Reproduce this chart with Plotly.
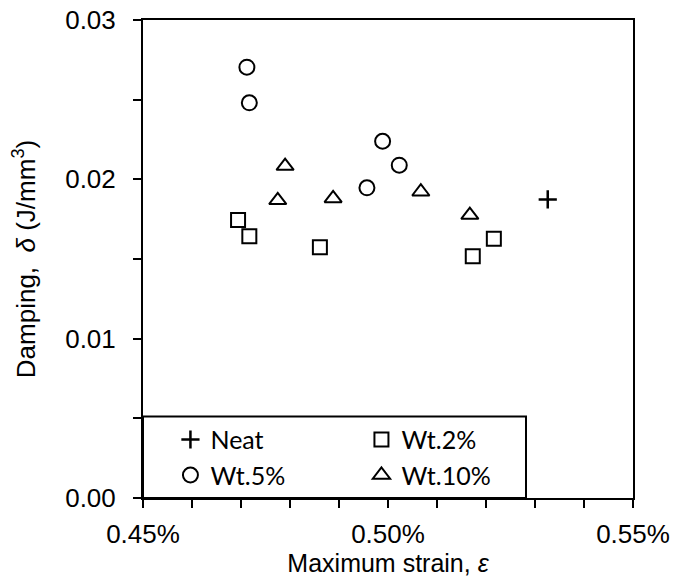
import plotly.graph_objects as go

# Maximum strain (fraction) and damping (J/mm^3) per specimen group
neat_strain = [0.005326]
neat_damping = [0.01874]

wt2_strain = [0.004694, 0.004717, 0.004861, 0.005216, 0.005173]
wt2_damping = [0.01744, 0.01643, 0.01574, 0.01627, 0.01518]

wt5_strain = [0.004712, 0.004717, 0.004989, 0.005023, 0.004957]
wt5_damping = [0.02704, 0.02480, 0.02239, 0.02089, 0.01947]

wt10_strain = [0.004790, 0.004775, 0.004888, 0.005067, 0.005167]
wt10_damping = [0.02083, 0.01868, 0.01880, 0.01922, 0.01776]

AXIS_FONT = "Liberation Sans"
LEGEND_FONT = "Lato"

fig = go.Figure()

series = [
    ("Neat", neat_strain, neat_damping, "cross-thin-open", 13, 2.5),
    ("Wt.2%", wt2_strain, wt2_damping, "square-open", 14, 2),
    ("Wt.5%", wt5_strain, wt5_damping, "circle-open", 15, 2),
    ("Wt.10%", wt10_strain, wt10_damping, "triangle-up-open", 15, 2),
]
for name, xs, ys, sym, size, lw in series:
    fig.add_trace(go.Scatter(
        x=xs, y=ys, name=name, mode="markers",
        marker=dict(symbol=sym, size=size, color="black",
                    line=dict(color="black", width=lw)),
    ))

# framed box behind the legend entries
fig.add_shape(type="rect", xref="paper", yref="paper",
              x0=0, x1=(526 - 143) / 490, y0=0, y1=(498.5 - 417) / 478,
              line=dict(color="black", width=2), fillcolor="white", layer="above")

axis_common = dict(
    showline=True, linecolor="black", linewidth=2, mirror=True,
    ticks="outside", ticklen=8, tickwidth=2, tickcolor="black",
    showgrid=False, zeroline=False,
    tickfont=dict(family=AXIS_FONT, size=26, color="black"),
)

fig.update_xaxes(
    range=[0.0045, 0.0055], tickvals=[0.0045, 0.0050, 0.0055], tickformat=".2%",
    minor=dict(dtick=0.0001, ticks="outside", ticklen=8, tickwidth=2, tickcolor="black", showgrid=False),
    ticklabelstandoff=4,
    title=dict(text="Maximum strain, <i>ε</i>", standoff=0,
               font=dict(family=AXIS_FONT, size=25, color="black")),
    **axis_common,
)
fig.update_yaxes(
    range=[0, 0.03], tickvals=[0, 0.01, 0.02, 0.03], tickformat=".2f",
    minor=dict(dtick=0.005, ticks="outside", ticklen=8, tickwidth=2, tickcolor="black", showgrid=False),
    ticklabelstandoff=12,
    title=dict(text="Damping,  <i>δ</i> (J/mm<sup>3</sup>)", standoff=22,
               font=dict(family=AXIS_FONT, size=26, color="black")),
    **axis_common,
)

fig.update_layout(
    width=679, height=577,
    margin=dict(l=143, r=46, t=20, b=79, autoexpand=False),
    plot_bgcolor="white", paper_bgcolor="white",
    showlegend=True,
    legend=dict(
        orientation="h", x=0.056, xanchor="left", y=0.17, yanchor="top",
        entrywidth=146, entrywidthmode="pixels", itemwidth=30,
        bgcolor="rgba(0,0,0,0)", borderwidth=0,
        font=dict(family=LEGEND_FONT, size=25, color="black"),
        itemclick=False, itemdoubleclick=False,
    ),
)

fig.write_html("out.html")
